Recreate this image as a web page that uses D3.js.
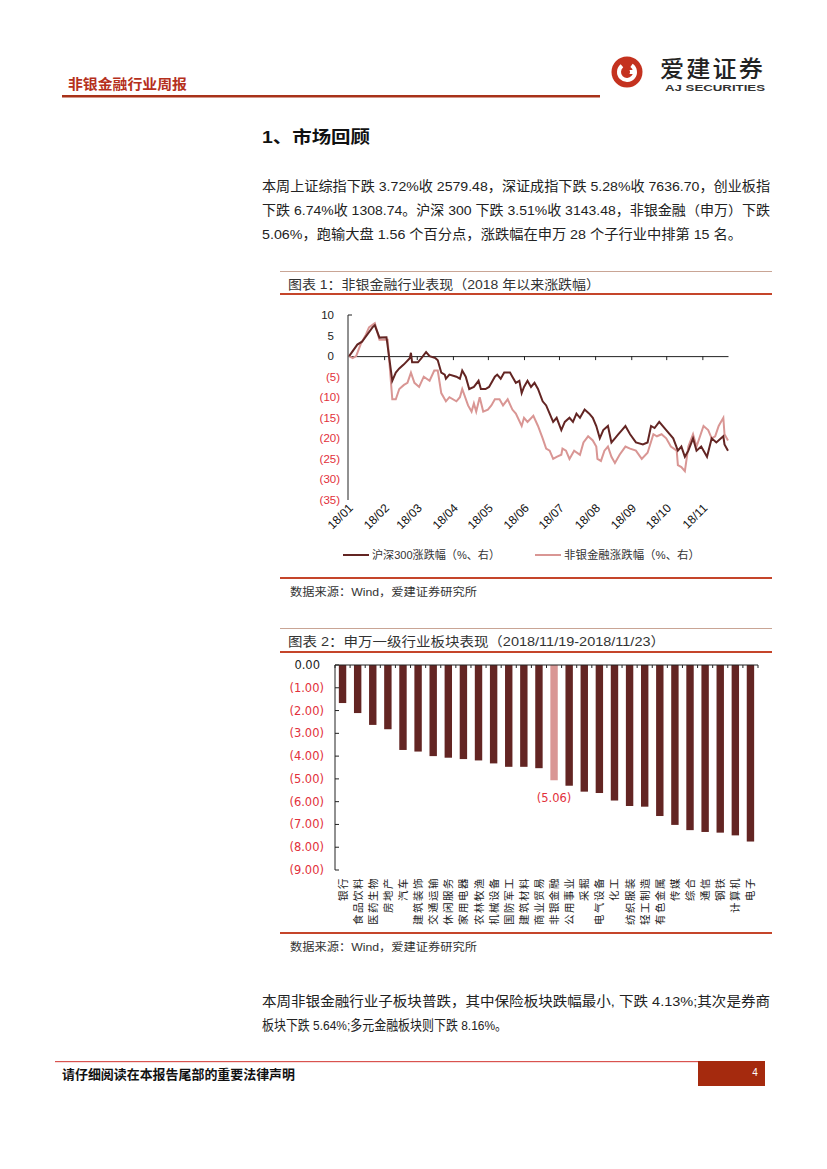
<!DOCTYPE html>
<html><head><meta charset="utf-8">
<script src="https://cdn.jsdelivr.net/npm/d3@7"></script>
<style>body{margin:0;background:#fff}svg{display:block}</style>
</head><body>
<svg id="page" width="827" height="1169"></svg>
<script>
// ---------- DATA ----------
const hs300 = [["01-02",0],["01-09",2.8],["01-13",3.5],["01-22",7],["01-24",7.5],["01-28",4.5],["02-03",4.6],["02-08",-6],["02-11",-4],["02-14",-3],["02-18",-2],["02-23",-0.5],["02-24",0.8],["02-25",-1.5],["03-02",-1.5],["03-05",-0.5],["03-09",1.0],["03-12",0],["03-17",-0.5],["03-19",-1],["03-22",-4],["03-25",-4.5],["03-26",-5.5],["03-29",-4.5],["04-04",-5],["04-07",-5.5],["04-09",-3.5],["04-12",-5],["04-15",-8],["04-19",-7.5],["04-23",-6],["04-25",-8],["04-29",-8],["05-02",-7.5],["05-07",-5],["05-09",-4.5],["05-12",-5.5],["05-15",-4],["05-20",-4],["05-22",-5],["05-25",-6.5],["05-28",-6],["05-30",-9],["06-01",-7.5],["06-04",-6],["06-07",-7.5],["06-10",-6.5],["06-13",-8],["06-17",-11],["06-20",-12],["06-23",-14],["06-26",-16],["06-29",-15],["07-03",-18],["07-06",-16],["07-10",-15],["07-13",-16],["07-16",-14],["07-19",-15],["07-23",-13],["07-27",-14],["07-30",-15],["08-02",-17],["08-05",-20],["08-08",-18],["08-12",-17],["08-15",-21],["08-18",-20],["08-21",-19],["08-24",-18],["08-27",-17],["08-31",-19],["09-05",-21],["09-11",-21.5],["09-15",-21],["09-18",-17],["09-21",-17.5],["09-25",-16],["10-01",-18],["10-07",-20],["10-11",-23],["10-14",-22],["10-17",-24.5],["10-20",-23],["10-24",-20],["10-27",-23],["10-31",-22],["11-05",-24.5],["11-09",-20],["11-13",-21],["11-17",-20],["11-19",-19.5],["11-20",-21.5],["11-23",-23]];
const nonBank = [["01-02",0],["01-05",-0.5],["01-08",0],["01-12",3],["01-16",5],["01-19",7],["01-24",8],["01-28",4],["02-01",4],["02-04",4],["02-08",-10.5],["02-11",-10.5],["02-14",-8],["02-18",-7],["02-21",-6.5],["02-24",-4],["02-27",-6.5],["03-03",-7.5],["03-07",-5],["03-12",-6],["03-16",-3.5],["03-19",-3.5],["03-22",-9],["03-26",-11],["03-29",-10],["04-04",-11],["04-07",-10],["04-09",-8],["04-14",-12],["04-17",-13.5],["04-19",-11.5],["04-21",-13.5],["04-24",-10],["04-27",-13.5],["05-01",-13],["05-04",-12],["05-07",-10.5],["05-11",-10.5],["05-14",-12],["05-18",-10.5],["05-22",-13],["05-25",-14],["05-30",-17],["06-01",-15],["06-04",-16],["06-09",-14.5],["06-13",-17],["06-17",-20],["06-20",-22.5],["06-23",-23],["06-26",-25],["06-29",-24.5],["07-03",-24],["07-04",-22.5],["07-07",-23],["07-10",-25],["07-14",-23],["07-19",-24],["07-22",-21],["07-26",-19.5],["07-30",-20.5],["08-02",-22],["08-03",-25],["08-06",-25.5],["08-09",-23],["08-12",-22],["08-15",-24.5],["08-18",-26],["08-22",-24],["08-27",-22],["08-31",-22.5],["09-05",-23],["09-10",-25],["09-15",-23.5],["09-20",-19],["09-23",-19.5],["09-27",-19],["10-01",-20],["10-05",-22],["10-10",-23],["10-11",-26.5],["10-14",-27],["10-17",-28],["10-20",-22],["10-24",-19],["10-27",-22],["11-02",-17],["11-06",-18],["11-09",-20],["11-12",-19.5],["11-15",-17],["11-19",-15],["11-20",-19],["11-23",-20.5]];
const lineYTicks = [10,5,0,-5,-10,-15,-20,-25,-30,-35];
const monthTicks = ["01","02","03","04","05","06","07","08","09","10","11"];
const lineLegend = ["沪深300涨跌幅（%、右）","非银金融涨跌幅（%、右）"];

const industries = ["银行","食品饮料","医药生物","房地产","汽车","建筑装饰","交通运输","休闲服务","家用电器","农林牧渔","机械设备","国防军工","建筑材料","商业贸易","非银金融","公用事业","采掘","电气设备","化工","纺织服装","轻工制造","有色金属","传媒","综合","通信","钢铁","计算机","电子"];
const industryChange = [-1.67,-2.11,-2.63,-2.82,-3.73,-3.80,-4.00,-4.07,-4.13,-4.19,-4.32,-4.47,-4.47,-4.53,-5.06,-5.30,-5.56,-5.62,-5.95,-6.19,-6.22,-6.63,-7.02,-7.25,-7.33,-7.36,-7.48,-7.75];
const highlightIndustry = "非银金融";
const barYTicks = [0,-1,-2,-3,-4,-5,-6,-7,-8,-9];

// ---------- STYLE ----------
const CJK = '"Liberation Sans","Noto Sans CJK SC",sans-serif';
const NUM2 = '"DejaVu Sans","Noto Sans CJK SC",sans-serif';
const RED = "#e2303a", DARK = "#632523", PINK = "#d99694";
const svg = d3.select("#page");

function txt(x, y, s, o = {}) {
  const t = svg.append("text").attr("x", x).attr("y", y).text(s)
    .attr("font-family", o.ff || CJK).attr("font-size", o.fs || 13)
    .attr("fill", o.fill || "#222").attr("font-weight", o.fw || "normal")
    .attr("dominant-baseline", "central");
  if (o.anchor) t.attr("text-anchor", o.anchor);
  if (o.len) t.attr("textLength", o.len).attr("lengthAdjust", "spacingAndGlyphs");
  if (o.ls) t.attr("letter-spacing", o.ls);
  return t;
}

// ---------- HEADER ----------
txt(68, 84, "非银金融行业周报", {fs: 14, fw: "bold", fill: "#b5301c", len: 119});
svg.append("rect").attr("x", 62).attr("y", 95).attr("width", 538).attr("height", 2.5).attr("fill", "#a83219");
const lg = svg.append("g").attr("transform", "translate(627,72)");
lg.append("circle").attr("r", 15.5).attr("fill", "#c4321f");
lg.append("path").attr("d", d3.arc()({innerRadius: 6, outerRadius: 10, startAngle: 0.6, endAngle: 5.6})).attr("fill", "#fff");
lg.append("rect").attr("x", -2).attr("y", -2).attr("width", 10).attr("height", 4).attr("fill", "#fff");
lg.append("circle").attr("r", 3).attr("fill", "#c4321f");
txt(660, 69, "爱建证券", {fs: 23, fw: "500", fill: "#222", len: 105, ls: 2});
txt(665, 88, "AJ SECURITIES", {fs: 9, fw: "bold", fill: "#333", len: 100});

// ---------- SECTION TEXT ----------
txt(262, 137, "1、市场回顾", {fs: 17, fw: "bold", fill: "#111", len: 108});
const para1 = ["本周上证综指下跌 3.72%收 2579.48，深证成指下跌 5.28%收 7636.70，创业板指",
  "下跌 6.74%收 1308.74。沪深 300 下跌 3.51%收 3143.48，非银金融（申万）下跌",
  "5.06%，跑输大盘 1.56 个百分点，涨跌幅在申万 28 个子行业中排第 15 名。"];
const para1Len = [508, 508, 480];
para1.forEach((s, i) => txt(262, 186 + i * 24, s, {fs: 13.5, len: para1Len[i]}));

// ---------- FRAMES ----------
function frame(top, redY, bottom, title, titleLen) {
  svg.append("rect").attr("x", 280).attr("y", top).attr("width", 492).attr("height", 1).attr("fill", "#c9a595");
  txt(288, top + 13, title, {fs: 13, fill: "#333", len: titleLen});
  svg.append("rect").attr("x", 280).attr("y", redY).attr("width", 492).attr("height", 2).attr("fill", "#c5452a");
  svg.append("rect").attr("x", 280).attr("y", bottom).attr("width", 492).attr("height", 2).attr("fill", "#c5452a");
  txt(290, bottom + 15, "数据来源：Wind，爱建证券研究所", {fs: 11, fill: "#333", len: 187});
}
frame(271, 293, 577, "图表 1：非银金融行业表现（2018 年以来涨跌幅）", 312);
frame(628, 651, 932, "图表 2：申万一级行业板块表现（2018/11/19-2018/11/23）", 377);

// ---------- CHART 1 ----------
const parse = d3.timeParse("%Y-%m-%d");
const toDate = s => parse("2018-" + s);
const x1 = d3.scaleTime().domain([toDate("01-01"), toDate("11-23")]).range([348, 728]);
const y1 = d3.scaleLinear().domain([-35, 10]).range([500, 315]);

svg.append("line").attr("x1", 348).attr("x2", 348).attr("y1", y1(10)).attr("y2", y1(-35)).attr("stroke", "#222").attr("stroke-width", 1);
svg.append("line").attr("x1", 348).attr("x2", 352).attr("y1", y1(10)).attr("y2", y1(10)).attr("stroke", "#222");
lineYTicks.forEach(v => {
  txt(v < 0 ? 340 : 334, y1(v), v < 0 ? `(${-v})` : String(v),
    {fs: 11.5, fill: v < 0 ? RED : "#222", anchor: "end"});
});
const xAxis1 = d3.axisBottom(x1).tickValues(monthTicks.slice(1).map(m => toDate(m + "-01"))).tickSize(4).tickSizeOuter(0).tickFormat("");
const gx1 = svg.append("g").attr("transform", `translate(0,${y1(0)})`).call(xAxis1);
gx1.selectAll("path,line").attr("stroke", "#222");
monthTicks.forEach(m => {
  svg.append("text").attr("transform", `translate(${x1(toDate(m + "-01")) + 3},${506}) rotate(-45)`)
    .attr("text-anchor", "end").attr("dominant-baseline", "central")
    .attr("font-family", CJK).attr("font-size", 12).attr("fill", "#111").text("18/" + m);
});
const line1 = d3.line().x(d => x1(toDate(d[0]))).y(d => y1(d[1]));
svg.append("path").datum(nonBank).attr("d", line1).attr("fill", "none").attr("stroke", PINK).attr("stroke-width", 2);
svg.append("path").datum(hs300).attr("d", line1).attr("fill", "none").attr("stroke", DARK).attr("stroke-width", 2);
[[343, DARK, 0], [535, PINK, 1]].forEach(([lx, c, i]) => {
  svg.append("line").attr("x1", lx).attr("x2", lx + 26).attr("y1", 555).attr("y2", 555).attr("stroke", c).attr("stroke-width", 2);
  txt(lx + 29, 555, lineLegend[i], {fs: 11.5, fill: "#333", len: i ? 136 : 128});
});

// ---------- CHART 2 ----------
const x2 = d3.scaleBand().domain(industries).range([335, 758]).padding(0);
const y2 = d3.scaleLinear().domain([-9, 0]).range([870, 665]);
const bw = x2.bandwidth() * 0.49;
svg.selectAll("rect.bar").data(industries).join("rect").attr("class", "bar")
  .attr("x", d => x2(d) + (x2.bandwidth() - bw) / 2)
  .attr("y", y2(0))
  .attr("width", bw)
  .attr("height", (d, i) => y2(industryChange[i]) - y2(0))
  .attr("fill", d => d === highlightIndustry ? PINK : DARK);
svg.append("line").attr("x1", 335).attr("x2", 335).attr("y1", y2(0)).attr("y2", y2(-9)).attr("stroke", "#222");
barYTicks.forEach(v => {
  svg.append("line").attr("x1", 335).attr("x2", 339).attr("y1", y2(v)).attr("y2", y2(v)).attr("stroke", "#222");
  txt(v < 0 ? 324 : 320, y2(v), v < 0 ? `(${(-v).toFixed(2)})` : v.toFixed(2),
    {ff: NUM2, fs: 11.5, fill: v < 0 ? RED : "#222", anchor: "end"});
});
svg.append("line").attr("x1", 335).attr("x2", 758).attr("y1", y2(0)).attr("y2", y2(0)).attr("stroke", "#222");
industries.concat([null]).forEach(d => {
  const bx = d ? x2(d) : 758;
  svg.append("line").attr("x1", bx).attr("x2", bx).attr("y1", y2(0)).attr("y2", y2(0) + 3).attr("stroke", "#222");
});
const hi = industries.indexOf(highlightIndustry);
txt(x2(highlightIndustry) + x2.bandwidth() / 2, y2(industryChange[hi]) + 18, `(${(-industryChange[hi]).toFixed(2)})`,
  {ff: NUM2, fs: 11.5, fill: RED, anchor: "middle"});
industries.forEach(d => {
  svg.append("text").attr("transform", `translate(${x2(d) + x2.bandwidth() / 2 + 4},877) rotate(-90)`)
    .attr("text-anchor", "end").attr("font-family", CJK).attr("font-size", 10.5)
    .attr("letter-spacing", 1.5).attr("fill", "#222").text(d);
});

// ---------- TEXT 2 ----------
txt(262, 1001, "本周非银金融行业子板块普跌，其中保险板块跌幅最小, 下跌 4.13%;其次是券商", {fs: 13.5, len: 508});
txt(262, 1025, "板块下跌 5.64%;多元金融板块则下跌 8.16%。", {fs: 13.5, len: 245});

// ---------- FOOTER ----------
svg.append("rect").attr("x", 55).attr("y", 1061).attr("width", 645).attr("height", 1.2).attr("fill", "#d9534f");
svg.append("rect").attr("x", 698).attr("y", 1061).attr("width", 67).attr("height", 25).attr("fill", "#a52a0e");
txt(755, 1072, "4", {fs: 10, fill: "#fff", anchor: "middle"});
txt(62, 1074, "请仔细阅读在本报告尾部的重要法律声明", {fs: 13, fw: "bold", fill: "#111", len: 233});
</script>
</body></html>
